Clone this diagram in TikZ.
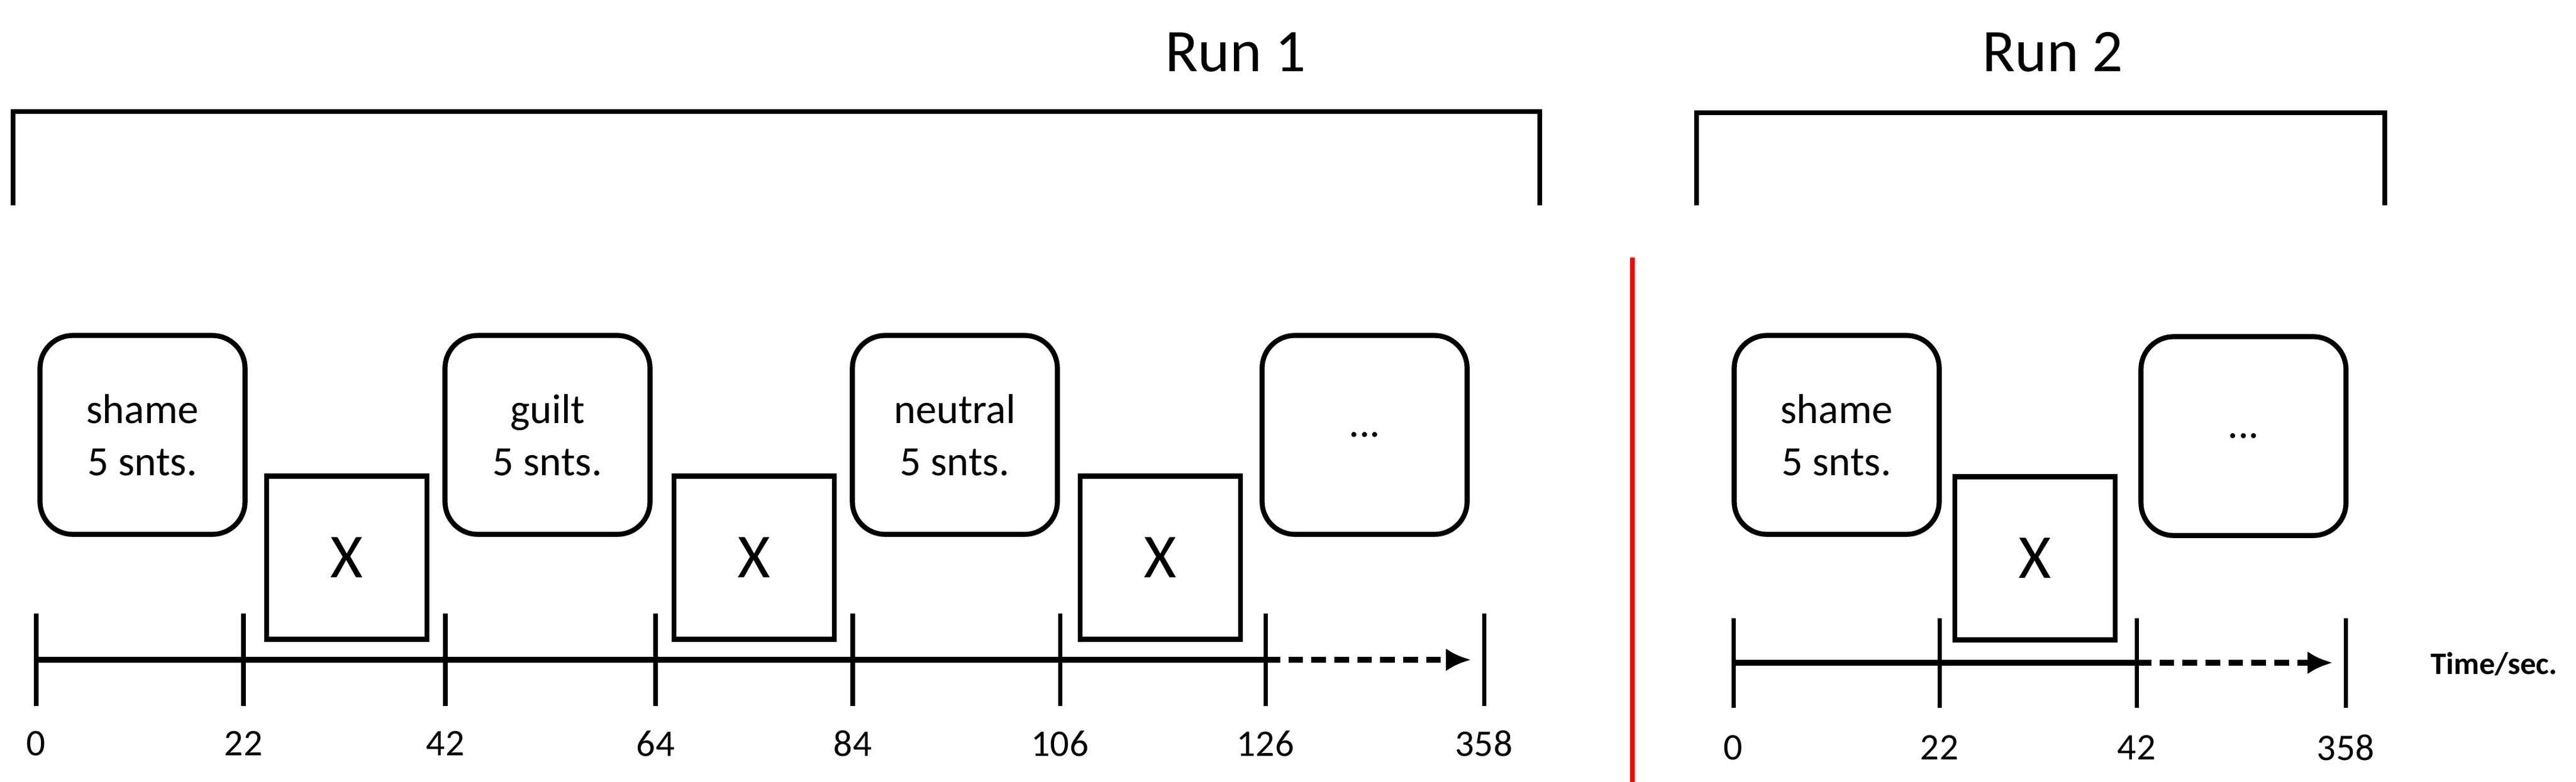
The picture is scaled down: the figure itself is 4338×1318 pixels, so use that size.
\documentclass[tikz,border=0pt]{standalone}
\usepackage{fontspec}
\setmainfont{Carlito}
\usetikzlibrary{arrows.meta}
\begin{document}
\begin{tikzpicture}[x=0.01cm,y=-0.01cm,
  stim/.style={draw,line width=2.4pt,rounded corners=0.55cm,minimum width=3.45cm,minimum height=3.35cm,align=center,font=\fontsize{20}{25}\selectfont,inner sep=0pt},
  fix/.style={draw,line width=2.4pt,minimum width=2.7cm,minimum height=2.75cm,font=\fontsize{30}{36}\selectfont,inner sep=0pt},
  tick/.style={line width=2pt},
  axis/.style={line width=2.6pt},
  dashax/.style={line width=2.6pt,dash pattern=on 7pt off 4pt,-{Latex[length=12pt,width=11pt]}},
  lab/.style={font=\fontsize{18}{21}\selectfont,inner sep=0pt},
  brk/.style={line width=2.2pt},
  run/.style={font=\fontsize{29}{34}\selectfont}]
\useasboundingbox (0,0) rectangle (4338,1318);
% brackets
\coordinate (b1a) at (22,346); \coordinate (b1b) at (2593,346);
\draw[brk] (b1a) -- (22,188) -- (2593,188) -- (b1b);
\node[run] (r1) at (2081,88) {Run 1};
\coordinate (b2a) at (2857,346); \coordinate (b2b) at (4016,346);
\draw[brk] (b2a) -- (2857,190) -- (4016,190) -- (b2b);
\node[run] (r2) at (3457,88) {Run 2};
% red line
\coordinate (ra) at (2749,434); \coordinate (rb) at (2749,1318);
\draw[red,line width=2.2pt] (ra) -- (rb);
% run 1 boxes
\node[stim] (s1) at (240,733) {shame\\5 snts.};
\node[fix] (x1) at (584,940) {X};
\node[stim] (s2) at (922,733) {guilt\\5 snts.};
\node[fix] (x2) at (1270,940) {X};
\node[stim] (s3) at (1608,733) {neutral\\5 snts.};
\node[fix] (x3) at (1954,940) {X};
\node[stim] (s4) at (2298,733) {...};
% run 1 timeline
\foreach \n/\x/\t in {a/61/0,b/410/22,c/750/42,d/1104/64,e/1436/84,f/1785/106,g/2131/126,h/2499/358}{
  \coordinate (t\n) at (\x,1112);
  \draw[tick] (\x,1034) -- (\x,1190);
  \node[lab] (l\n) at (\x,1253) {\t};
}
\draw[axis] (ta) -- (tg);
\draw[dashax] (tg) -- ([xshift=-0.22cm]th);
% run 2 boxes
\node[stim] (u1) at (3093,733) {shame\\5 snts.};
\node[fix] (y1) at (3427,941) {X};
\node[stim] (u2) at (3778,735) {...};
\foreach \n/\x/\t in {a/2919/0,b/3266/22,c/3598/42,d/3950/358}{
  \coordinate (v\n) at (\x,1117);
  \draw[tick] (\x,1042) -- (\x,1193);
  \node[lab] (m\n) at (\x,1260) {\t};
}
\draw[axis] (va) -- (vc);
\draw[dashax] (vc) -- ([xshift=-0.22cm]vd);
\node[font=\bfseries\fontsize{15}{18}\selectfont] (ts) at (4200,1119) {Time/sec.};
\end{tikzpicture}
\end{document}
